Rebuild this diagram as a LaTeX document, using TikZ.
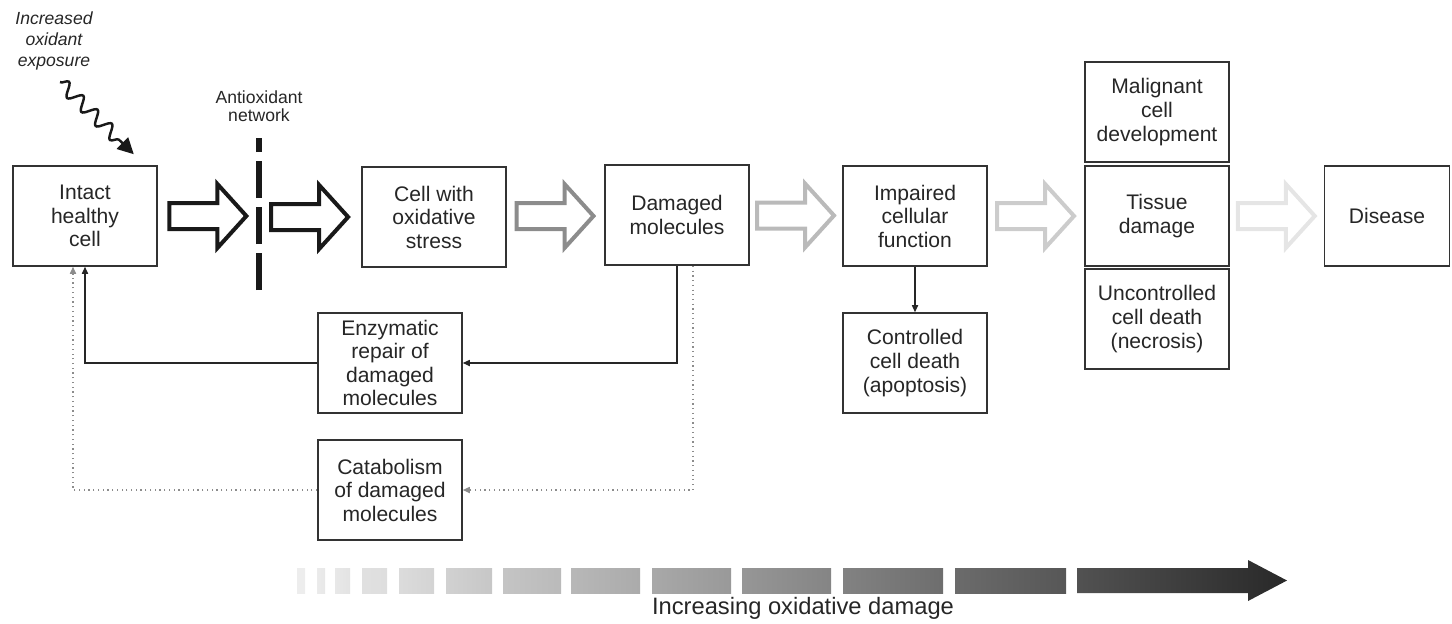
\documentclass[tikz,border=0pt]{standalone}
\usepackage{fontspec}
\setmainfont{Liberation Sans}
\usetikzlibrary{arrows.meta}
\usetikzlibrary{decorations.pathmorphing}
\usetikzlibrary{calc}

\begin{document}
\begin{tikzpicture}[x = 0.02cm, y = -0.02cm, font=\fontsize{12}{13.4}\selectfont, text=black!85]
	\tikzstyle{boxStyle} = [draw=black!80, line width=0.9pt, align=center, minimum width=2.88cm, minimum height=2cm, inner sep=2pt]
	\tikzstyle{smallStyle} = [align=center, font=\fontsize{10}{10.4}\selectfont, inner sep=0pt]
	\tikzstyle{solidEdge} = [draw=black!85, line width=0.7pt, -{Triangle[length=4pt, width=3.5pt]}]
	\tikzstyle{dottedEdge} = [draw=black!45, line width=0.7pt, dotted, -{Triangle[length=4pt, width=3.5pt]}]
	\tikzset{fatArrow/.pic = {\draw[line width=0.08cm, line join=miter] (-39,-13) -- (9,-13) -- (9,-32) -- (38,0) -- (9,32) -- (9,13) -- (-39,13) -- cycle;}}
	\useasboundingbox (0,0) rectangle (1452,623);
	% boxes
	\node[boxStyle] (intact) at (85,216) {Intact\\healthy\\cell};
	\node[boxStyle] (stress) at (434,217) {Cell with\\oxidative\\stress};
	\node[boxStyle] (damaged) at (677,215) {Damaged\\molecules};
	\node[boxStyle] (impaired) at (915,216) {Impaired\\cellular\\function};
	\node[boxStyle] (apoptosis) at (915,363) {Controlled\\cell death\\(apoptosis)};
	\node[boxStyle] (malignant) at (1157,112) {Malignant\\cell\\development};
	\node[boxStyle] (tissue) at (1157,216) {Tissue\\damage};
	\node[boxStyle] (necrosis) at (1157,319) {Uncontrolled\\cell death\\(necrosis)};
	\node[boxStyle, minimum width=2.5cm] (disease) at (1387,216) {Disease};
	\node[boxStyle] (repair) at (390,363) {Enzymatic\\repair of\\damaged\\molecules};
	\node[boxStyle] (catabolism) at (390,490) {Catabolism\\of damaged\\molecules};
	% antioxidant barrier
	\coordinate (barrierTop) at (259,138);
	\coordinate (barrierBottom) at (259,290);
	\draw[line width=0.12cm, black!90, dash pattern=on 0.74cm off 0.18cm] (barrierBottom) -- (barrierTop);
	\node[smallStyle] (antioxidant) at (259,106) {Antioxidant\\network};
	% exposure
	\node[smallStyle, font=\fontsize{10}{11.9}\selectfont\itshape] (exposure) at (54,41) {Increased\\oxidant\\exposure};
	\coordinate (waveStart) at (60,82);
	\draw[line width=1.4pt, black!90, decorate, decoration={snake, amplitude=0.13cm, segment length=0.4cm, post length=0.3cm}, -{Triangle[length=0.32cm, width=0.32cm]}] (waveStart) -- ([shift={(-24,-11)}]intact.north east);
	% fat arrows
	\pic[black!90] at ($(intact.east)!0.5!(barrierTop |- intact.east)$) {fatArrow};
	\pic[black!90] at ($(barrierTop |- stress.west)!0.5!(stress.west)$) {fatArrow};
	\pic[black!45] at ($(stress.east)!0.5!(damaged.west)$) {fatArrow};
	\pic[black!27] at ($(damaged.east)!0.5!(impaired.west)$) {fatArrow};
	\pic[black!20] at ($(impaired.east)!0.5!(tissue.west)$) {fatArrow};
	\pic[black!10] at ($(tissue.east)!0.5!(disease.west)$) {fatArrow};
	% connectors
	\draw[solidEdge] (damaged.south) |- (repair.east);
	\draw[solidEdge] (repair.west) -| (intact.south);
	\draw[dottedEdge] ([xshift=0.32cm]damaged.south) |- (catabolism.east);
	\draw[dottedEdge] (catabolism.west) -| ([xshift=-0.24cm]intact.south);
	\draw[solidEdge] (impaired) -- (apoptosis);
	% damage bar
	\foreach \a/\b in {297/305, 317/325, 335/350, 362/387, 399/434, 446/492, 503/561, 571/640, 652/731, 742/831, 843/943, 955/1066}{
		\pgfmathtruncatemacro{\pa}{7 + (\a - 297)/990*77}
		\pgfmathtruncatemacro{\pb}{7 + (\b - 297)/990*77}
		\shade[left color=black!\pa, right color=black!\pb] (\a,568) rectangle (\b,593);
	}
	\shade[left color=black!68, right color=black!84] (1077,568) -- (1248,568) -- (1248,560) -- (1287,580.5) -- (1248,601) -- (1248,593) -- (1077,593) -- cycle;
	\node[font=\fontsize{13.5}{15}\selectfont] (damageLabel) at (803,608) {Increasing oxidative damage};
\end{tikzpicture}
\end{document}
